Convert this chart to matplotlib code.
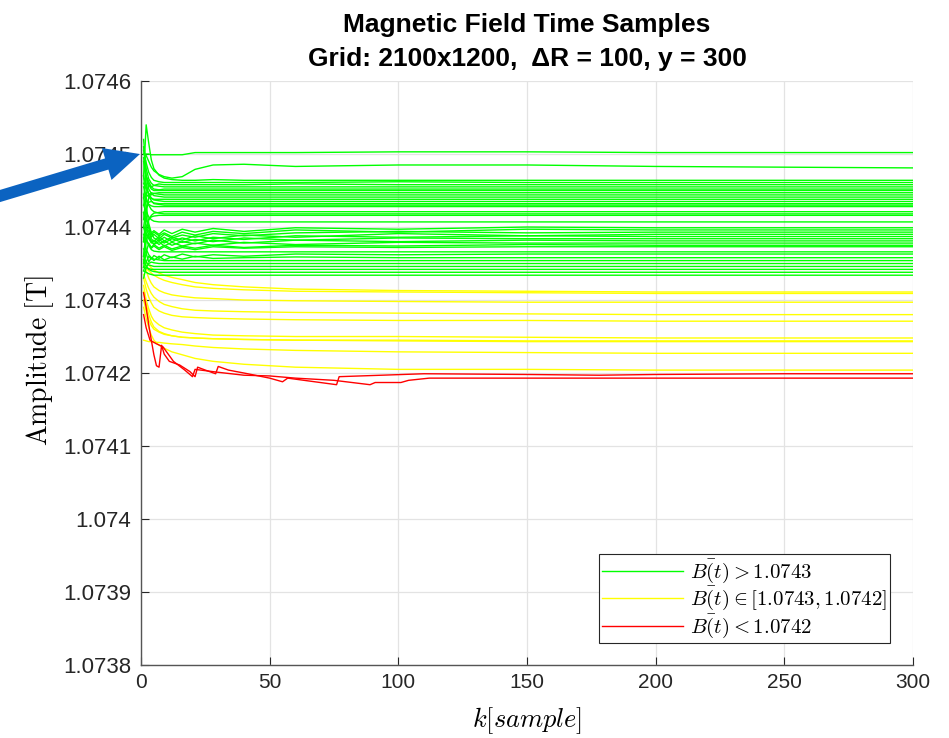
import matplotlib
matplotlib.use("Agg")
import matplotlib.pyplot as plt
import numpy as np

plt.rcParams["font.family"] = ["Liberation Sans", "DejaVu Sans"]
plt.rcParams["mathtext.fontset"] = "cm"

# field offsets in uT above B0, sampled at K
B0 = 1.074
K = [1, 2, 3, 4, 5, 7, 9, 12, 16, 21, 28, 40, 60, 100, 150, 200, 300]

green_lines = [
    [500, 500, 500, 499, 499, 499, 499, 499, 499, 502, 502, 502, 502, 503, 503, 502, 502],
    [500, 498, 490, 482, 477, 472, 469, 467, 469, 479, 485, 486, 483, 485, 485, 483, 481],
    [470, 540, 515, 492, 480, 471, 467, 465, 464, 464, 465, 464, 464, 464, 464, 464, 464],
    [505, 488, 475, 468, 464, 462, 461, 461, 461, 461, 461, 461, 461, 462, 461, 461, 461],
    [440, 470, 462, 455, 457, 459, 458, 458, 458, 458, 458, 458, 459, 458, 458, 458, 458],
    [520, 480, 466, 460, 457, 456, 455, 455, 455, 455, 455, 455, 455, 455, 455, 455, 455],
    [410, 445, 458, 455, 452, 451, 452, 452, 452, 452, 452, 452, 452, 452, 452, 452, 452],
    [495, 470, 458, 452, 450, 450, 450, 450, 450, 450, 450, 450, 450, 450, 450, 450, 450],
    [460, 452, 446, 444, 446, 447, 447, 447, 447, 447, 447, 447, 447, 447, 447, 447, 447],
    [380, 420, 440, 447, 446, 445, 444, 444, 444, 444, 444, 444, 444, 444, 444, 444, 444],
    [510, 470, 452, 446, 443, 442, 441, 441, 441, 441, 441, 441, 441, 441, 441, 441, 441],
    [430, 445, 441, 439, 438, 438, 438, 438, 438, 438, 438, 438, 438, 438, 438, 438, 438],
    [470, 455, 445, 440, 437, 436, 435, 435, 435, 435, 435, 435, 435, 435, 435, 435, 435],
    [400, 425, 434, 435, 433, 432, 432, 432, 432, 432, 432, 432, 432, 432, 432, 432, 432],
    [490, 460, 443, 436, 432, 431, 430, 430, 430, 430, 430, 430, 430, 430, 430, 430, 430],
    [445, 436, 431, 429, 428, 428, 428, 428, 428, 428, 428, 428, 428, 428, 428, 428, 428],
    [360, 395, 410, 416, 419, 420, 421, 421, 421, 421, 421, 421, 421, 421, 421, 421, 421],
    [455, 440, 430, 424, 421, 419, 418, 418, 418, 418, 418, 418, 418, 418, 418, 418, 418],
    [380, 400, 410, 414, 415, 416, 416, 416, 416, 416, 416, 416, 416, 416, 416, 416, 416],
    [430, 420, 414, 410, 408, 407, 407, 407, 407, 407, 407, 407, 407, 407, 407, 407, 407],
    [420, 410, 400, 392, 395, 390, 396, 391, 397, 393, 398, 394, 399, 397, 400, 399, 399],
    [380, 400, 394, 389, 393, 388, 392, 387, 393, 389, 394, 391, 396, 393, 397, 396, 396],
    [440, 415, 398, 386, 390, 384, 390, 385, 389, 386, 391, 388, 392, 394, 392, 393, 393],
    [350, 380, 392, 384, 380, 387, 381, 386, 382, 388, 384, 389, 386, 391, 388, 390, 390],
    [470, 430, 405, 392, 385, 381, 386, 380, 385, 381, 386, 383, 388, 386, 388, 387, 387],
    [360, 390, 386, 380, 377, 383, 378, 384, 379, 383, 380, 385, 382, 385, 384, 384, 384],
    [400, 392, 384, 378, 382, 376, 381, 375, 380, 377, 382, 378, 382, 380, 382, 381, 381],
    [420, 400, 388, 381, 376, 380, 374, 379, 374, 378, 375, 379, 376, 379, 378, 378, 378],
    [345, 365, 378, 372, 376, 371, 375, 370, 374, 371, 375, 372, 375, 374, 376, 375, 375],
    [390, 382, 376, 371, 374, 369, 373, 368, 372, 369, 373, 371, 373, 372, 373, 373, 373],
    [400, 385, 375, 369, 367, 366, 366, 366, 366, 366, 366, 366, 366, 366, 366, 366, 366],
    [340, 352, 360, 356, 361, 357, 362, 358, 363, 359, 362, 360, 363, 362, 363, 363, 363],
    [370, 364, 352, 358, 354, 360, 355, 359, 356, 360, 357, 358, 359, 358, 358, 358, 358],
    [385, 370, 362, 358, 356, 355, 354, 354, 354, 354, 354, 354, 354, 354, 354, 354, 354],
    [330, 345, 350, 352, 351, 350, 350, 350, 350, 350, 350, 350, 350, 350, 350, 350, 350],
    [360, 352, 348, 347, 346, 346, 346, 346, 346, 346, 346, 346, 346, 346, 346, 346, 346],
    [345, 344, 343, 342, 342, 342, 342, 342, 342, 342, 342, 342, 342, 342, 342, 342, 342],
    [355, 347, 342, 340, 339, 338, 338, 338, 338, 338, 338, 338, 338, 338, 338, 338, 338],
    [340, 338, 336, 335, 334, 334, 334, 334, 334, 334, 334, 334, 334, 334, 334, 334, 334],
]

yellow_lines = [
    [356, 352, 348, 344, 341, 337, 334, 331, 328, 324, 321, 318, 315, 313, 312, 311, 311],
    [345, 343, 340, 337, 334, 330, 327, 324, 321, 318, 316, 314, 312, 311, 310, 309, 309],
    [352, 340, 330, 323, 318, 313, 310, 307, 305, 303, 302, 300, 299, 298, 297, 297, 297],
    [335, 325, 316, 309, 304, 298, 294, 291, 288, 286, 285, 284, 283, 282, 281, 280, 280],
    [330, 315, 304, 296, 290, 285, 282, 279, 277, 276, 275, 274, 273, 272, 272, 271, 271],
    [320, 300, 288, 278, 272, 266, 262, 259, 256, 254, 252, 251, 250, 250, 249, 248, 248],
    [300, 285, 273, 265, 260, 256, 253, 251, 249, 248, 247, 246, 245, 245, 244, 244, 244],
    [312, 295, 280, 270, 263, 257, 254, 251, 249, 248, 247, 246, 245, 244, 243, 243, 243],
    [245, 244, 243, 243, 242, 242, 241, 240, 239, 237, 235, 233, 231, 229, 228, 227, 227],
    [290, 275, 262, 252, 245, 238, 234, 229, 225, 220, 216, 212, 208, 205, 205, 204, 204],
]

red_a_k = [1, 2, 3, 4, 5, 6, 7, 8, 9, 11, 15, 19, 21, 22, 25, 29, 30, 34, 40,
           50, 55, 57, 76, 77, 110, 150, 178, 200, 250, 300]
red_a = [310, 290, 266, 245, 225, 210, 208, 238, 226, 216, 211, 202, 195, 208, 204,
         199, 209, 204, 200, 193, 188, 193, 184, 195, 199, 198, 197, 198, 199, 199]
red_b_k = [1, 2, 3.5, 6, 8.5, 12.6, 17, 20, 21, 30, 40, 50, 60, 75, 89, 91, 101,
           104, 112, 150, 200, 250, 300]
red_b = [280, 262, 245, 240, 236, 216, 204, 195, 205, 201, 197, 196, 193, 190, 184,
         187, 187, 190, 193, 193, 193, 193, 193]

ytick_vals = [1.0738, 1.0739, 1.074, 1.0741, 1.0742, 1.0743, 1.0744, 1.0745, 1.0746]
ytick_labels = ["1.0738", "1.0739", "1.074", "1.0741", "1.0742", "1.0743",
                "1.0744", "1.0745", "1.0746"]

GREEN, YELLOW, RED = "#00ff00", "#ffff00", "#ff0000"
LW = 1.0

fig = plt.figure(figsize=(9.49, 7.38), dpi=100)
ax = fig.add_axes([0.1486, 0.0989, 0.8134, 0.7913])

k = np.array(K)
for vals in yellow_lines:
    ax.plot(k, B0 + np.array(vals) * 1e-6, color=YELLOW, lw=LW)
ax.plot(red_a_k, B0 + np.array(red_a) * 1e-6, color=RED, lw=LW)
ax.plot(red_b_k, B0 + np.array(red_b) * 1e-6, color=RED, lw=LW)
for vals in green_lines:
    ax.plot(k, B0 + np.array(vals) * 1e-6, color=GREEN, lw=LW)

ax.set_xlim(0, 300)
ax.set_ylim(1.0738, 1.0746)
ax.set_xticks([0, 50, 100, 150, 200, 250, 300])
ax.set_yticks(ytick_vals)
ax.set_yticklabels(ytick_labels)
ax.tick_params(direction="in", length=6, width=0.8, labelsize=15,
               colors="#262626", pad=6)
ax.tick_params(axis="y", labelsize=16, pad=7)
ax.grid(True, color="#e3e3e3", lw=0.9)
ax.set_axisbelow(True)
for side in ["top", "right"]:
    ax.spines[side].set_visible(False)
for side in ["left", "bottom"]:
    ax.spines[side].set_color("#555555")
    ax.spines[side].set_linewidth(1.0)

ax.set_xlabel(r"$k[sample]$", fontsize=19, labelpad=9)
ax.set_ylabel(r"$\mathrm{Amplitude}\ [\mathrm{T}]$", fontsize=20)
ax.yaxis.set_label_coords(-0.110, 0.522)
ax.set_title("Magnetic Field Time Samples\nGrid: 2100x1200,  \u0394R = 100, y = 300",
             fontsize=19, fontweight="bold", linespacing=1.5, pad=11)

handles = [plt.Line2D([], [], color=c, lw=LW) for c in (GREEN, YELLOW, RED)]
labels = [r"$B\bar{(}t) > 1.0743$",
          r"$B\bar{(}t) \in [1.0743, 1.0742]$",
          r"$B\bar{(}t) < 1.0742$"]
leg = ax.legend(handles, labels, loc="lower right", bbox_to_anchor=(0.970, 0.0377),
                borderaxespad=0, fontsize=15, handlelength=3.9, fancybox=False,
                framealpha=1, edgecolor="#262626", labelspacing=0.0,
                borderpad=0.15, handletextpad=0.3)
leg.get_frame().set_linewidth(0.8)

# pointer arrow into the plot at 1.0745
ax.annotate("", xy=(-0.4, 1.0745), xycoords="data",
            xytext=(-10, 738 - 199), textcoords="figure pixels",
            annotation_clip=False,
            arrowprops=dict(arrowstyle="simple,head_length=1.25,head_width=1.2,tail_width=0.42",
                            mutation_scale=20, color="#0b63c1", lw=0,
                            shrinkA=0, shrinkB=0))

fig.savefig("out.png", dpi=100)
